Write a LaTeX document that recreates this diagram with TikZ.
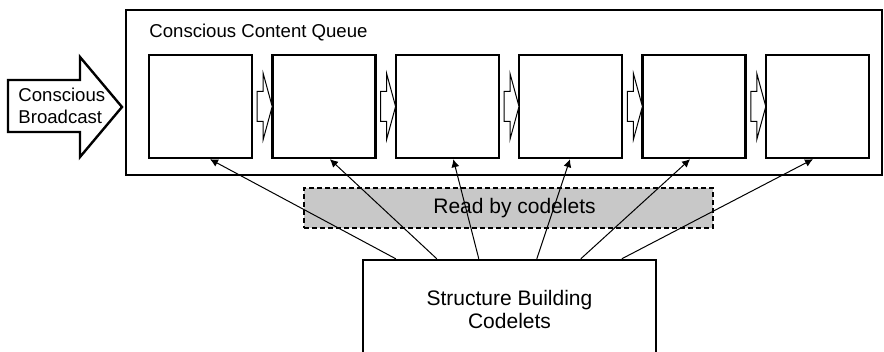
\documentclass[tikz,border=0pt]{standalone}
\usepackage{fontspec}
\setmainfont{Liberation Sans}
\usetikzlibrary{arrows.meta,calc}

\definecolor{readgray}{RGB}{200,200,200}

\tikzset{
  slot/.style={draw, line width=1.2pt, fill=white, minimum width=51.5pt,
    minimum height=51.5pt, inner sep=0pt},
  moveon/.style={draw, line width=0.5pt, fill=white},
  tag/.style={inner sep=0pt, align=left, font=\fontsize{9.3}{11}\selectfont},
  readbox/.style={draw, line width=1pt, dash pattern=on 2.5pt off 1.5pt,
    fill=readgray, minimum width=204.5pt, minimum height=20pt,
    font=\fontsize{10.5}{12}\selectfont},
  sbbox/.style={draw, line width=1.2pt, fill=white, minimum width=146.5pt,
    minimum height=49pt, align=center, font=\fontsize{10.5}{11.5}\selectfont},
  feed/.style={line width=0.5pt, -{Latex[length=4pt,width=4pt]}},
}

\begin{document}
\begin{tikzpicture}[x=0.5pt, y=-0.5pt]
\clip (0,0) rectangle (884,352);

% Queue frame and its title
\draw[line width=1.2pt] (126,10) rectangle (882,175);
\node[tag, anchor=west] (qtitle) at (149,33) {Conscious Content Queue};

% Queue slots
\foreach \i in {1,...,6}
  \node[slot] (q\i) at ({200.5+123.4*(\i-1)},106.5) {};

% Hollow arrows between slots
\foreach \i in {1,...,5}
  \draw[moveon, shift={(q\i.east)}] (4,-15) -- (10,-15) -- (10,-33) -- (19,0)
    -- (10,33) -- (10,15) -- (4,15) -- cycle;

% Broadcast arrow coming in
\draw[line width=1.2pt] (8,80) -- (80,80) -- (80,57) -- (122,107) -- (80,157)
  -- (80,132) -- (8,132) -- cycle;
\node[tag, anchor=west] (cb) at (18,106) {Conscious\\Broadcast};

% Read area
\node[readbox] (rd) at (508.5,208) {\hspace{6pt}Read by codelets};

% Codelets box
\node[sbbox] (sb) at (509.5,309) {Structure Building\\Codelets};

% Links from codelets to slots
\foreach \i/\s/\t in {1/34/9.5, 2/75/6, 3/117/6, 4/175/-0.7, 5/219/-4, 6/260/-4.5}
  \draw[feed] ($(sb.north west)+(\s,0)$) -- ($(q\i.south)+(\t,0)$);
\end{tikzpicture}
\end{document}
